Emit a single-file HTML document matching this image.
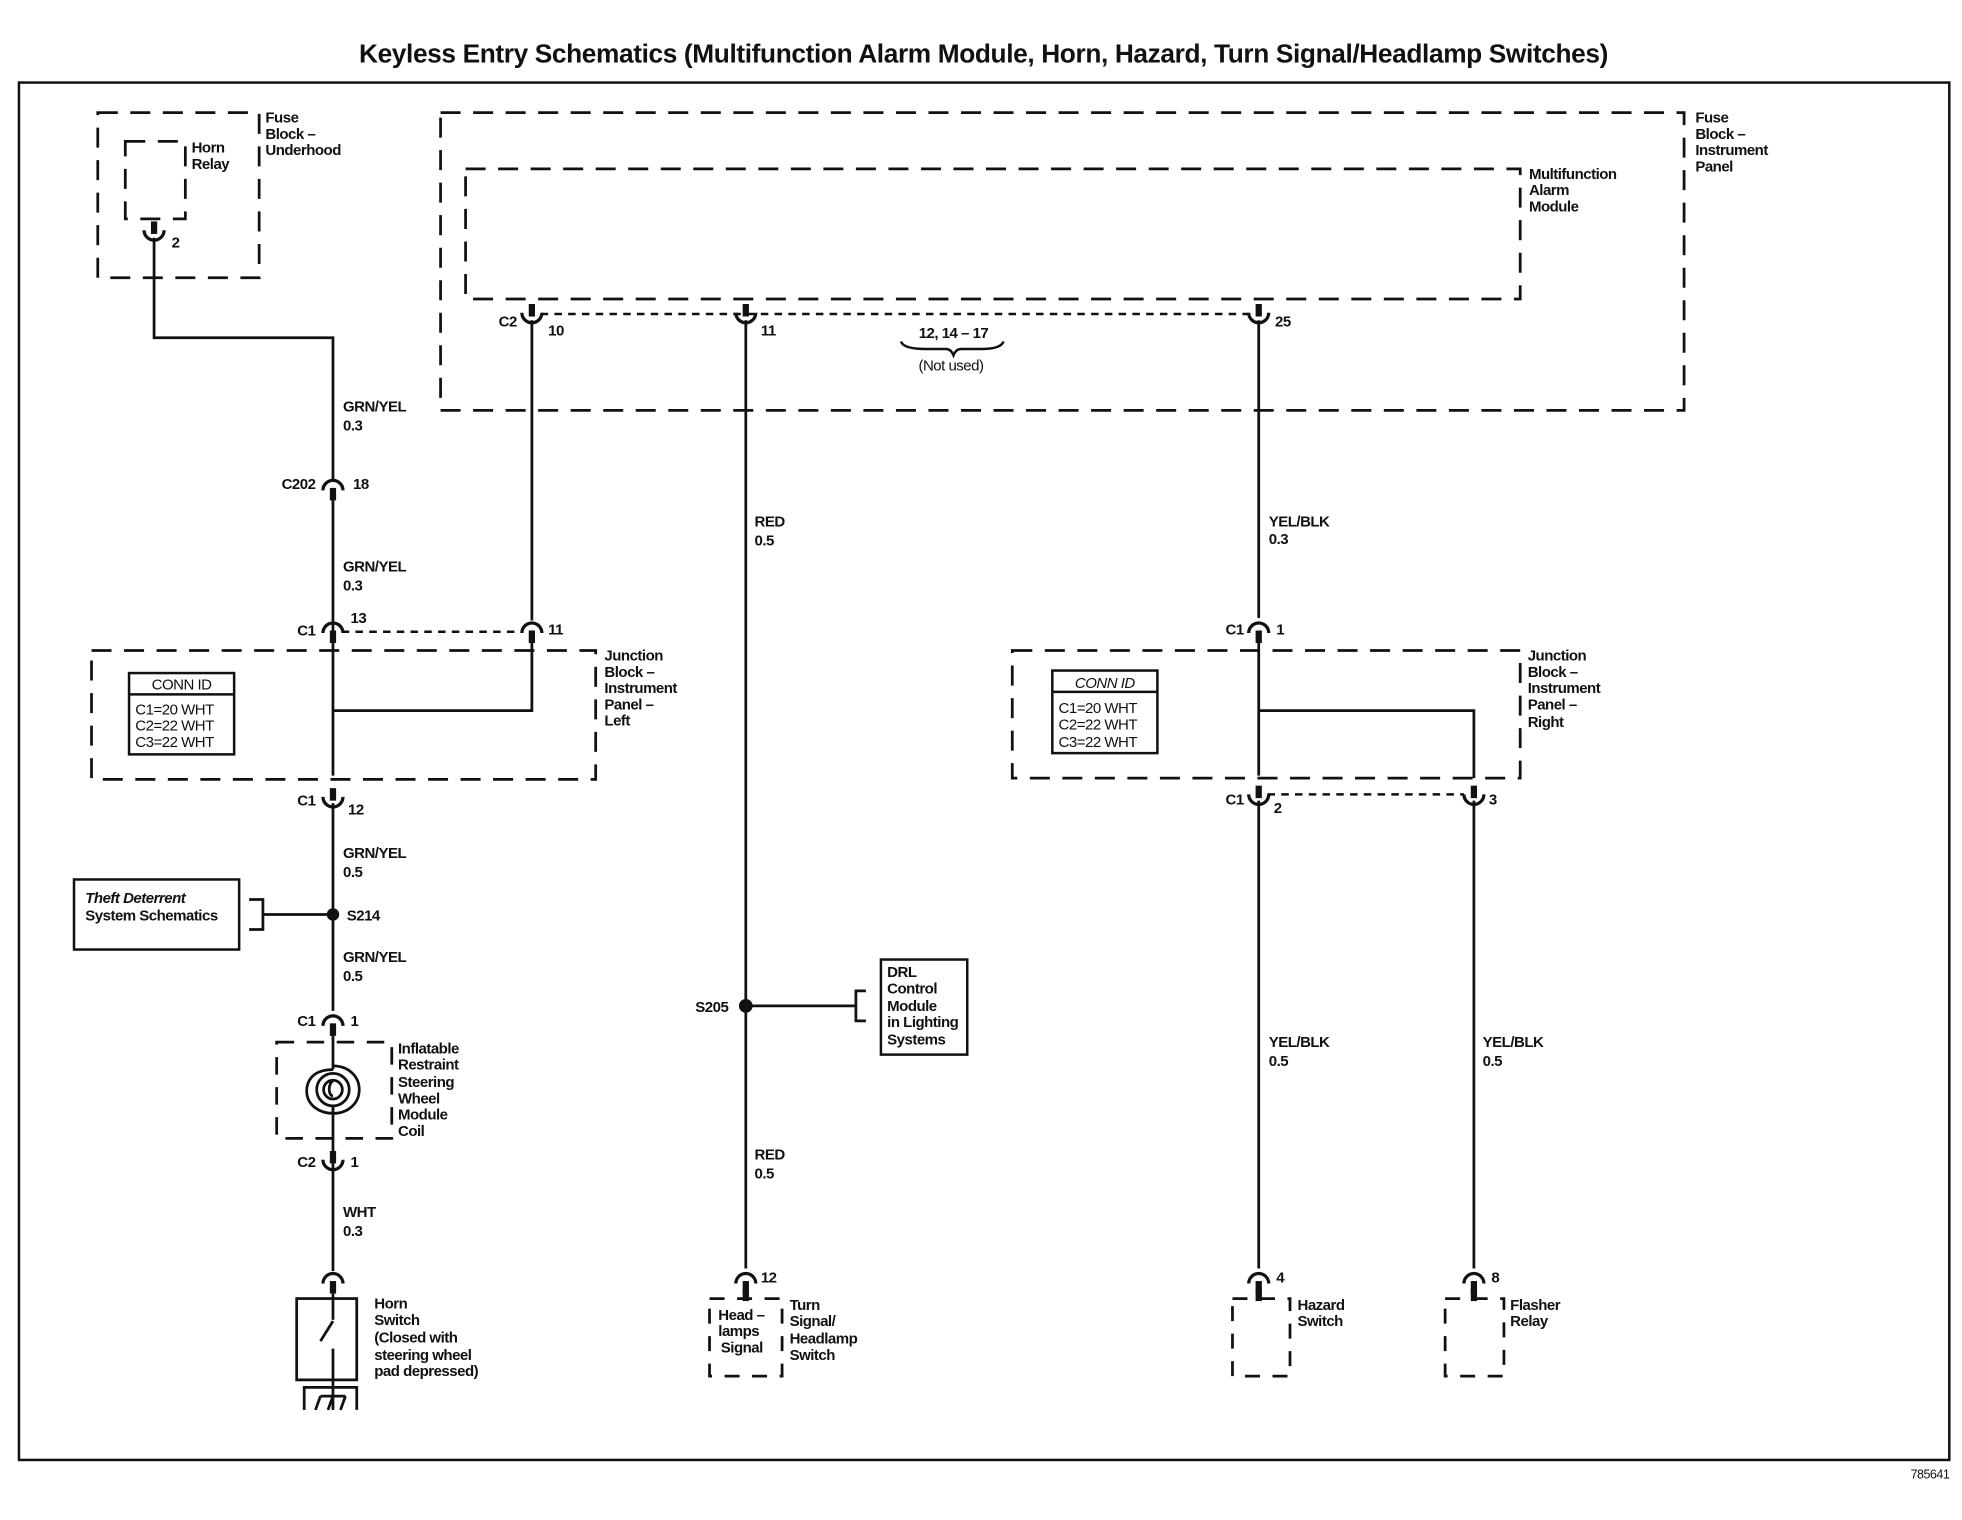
<!DOCTYPE html>
<html><head><meta charset="utf-8"><style>
html,body{margin:0;padding:0;background:#fff}
svg{display:block}
text{font-family:"Liberation Sans",Arial,sans-serif;font-weight:bold;font-size:12px;fill:#111;letter-spacing:-0.4px}
</style></head><body>
<svg width="1962" height="1520" viewBox="0 0 1568 1215" xmlns="http://www.w3.org/2000/svg">
<defs>
<g id="F"><rect x="-2.5" y="-13" width="5" height="10" fill="#111"/><path d="M-8,-6 A8,8 0 0 0 8,-6" fill="none" stroke="#111" stroke-width="2.6"/></g>
<g id="M"><path d="M-8,6 A8,8 0 0 1 8,6" fill="none" stroke="#111" stroke-width="2.6"/><rect x="-2.5" y="4" width="5" height="10" fill="#111"/></g>
</defs>
<text x="786" y="50" text-anchor="middle" style="font-size:21px;letter-spacing:-0.3px">Keyless Entry Schematics (Multifunction Alarm Module, Horn, Hazard, Turn Signal/Headlamp Switches)</text>
<rect x="15" y="66" width="1543" height="1101" fill="none" stroke="#111" stroke-width="2"/>
<text x="1558" y="1182" text-anchor="end" style="font-size:10px;font-weight:normal">785641</text>

<g fill="none" stroke="#111" stroke-width="2.2" stroke-dasharray="16,10">
<rect x="78" y="90" width="129" height="132"/>
<rect x="100" y="113" width="48" height="62"/>
<rect x="352" y="90" width="994" height="238"/>
<rect x="372" y="135" width="843" height="104"/>
<rect x="73" y="520" width="403" height="103"/>
<rect x="809" y="520" width="406" height="102"/>
<rect x="221" y="833" width="92" height="77" stroke-dasharray="14,10"/>
<rect x="567" y="1038" width="58" height="62" stroke-dasharray="12,10"/>
<rect x="985" y="1038" width="46" height="62" stroke-dasharray="12,10"/>
<rect x="1155" y="1038" width="47" height="62" stroke-dasharray="12,10"/>
</g>
<g fill="none" stroke="#111" stroke-width="2" stroke-dasharray="6,5">
<line x1="432" y1="251" x2="998" y2="251"/>
<line x1="273" y1="505" x2="418" y2="505"/>
<line x1="1013" y1="635" x2="1170" y2="635"/>
</g>

<g fill="none" stroke="#111" stroke-width="2.2">
<polyline points="123,190 123,270 266,270 266,384"/>
<line x1="266" y1="392" x2="266" y2="620"/>
<polyline points="266,568 425,568 425,510"/>
<line x1="425" y1="256" x2="425" y2="496"/>
<line x1="266" y1="642" x2="266" y2="808"/>
<line x1="266" y1="826" x2="266" y2="855"/>
<line x1="266" y1="885" x2="266" y2="1016"/>
<line x1="596" y1="256" x2="596" y2="1014"/>
<line x1="1006" y1="256" x2="1006" y2="494"/>
<line x1="1006" y1="512" x2="1006" y2="620"/>
<polyline points="1006,568 1178,568 1178,622"/>
<line x1="1006" y1="640" x2="1006" y2="1014"/>
<line x1="1178" y1="640" x2="1178" y2="1014"/>
<line x1="596" y1="804" x2="684" y2="804"/>
<polyline points="692,792 684,792 684,816 692,816" />
<line x1="266" y1="731" x2="210" y2="731"/>
<polyline points="199,719 210,719 210,743 199,743"/>
</g>
<circle cx="266" cy="731" r="5" fill="#111"/>
<circle cx="596" cy="804" r="5.5" fill="#111"/>

<use href="#F" x="123" y="190"/>
<use href="#F" x="425" y="256"/>
<use href="#F" x="596" y="256"/>
<use href="#F" x="1006" y="256"/>
<use href="#F" x="266" y="643"/>
<use href="#F" x="266" y="933"/>
<use href="#F" x="1006" y="641"/>
<use href="#F" x="1178" y="641"/>
<use href="#M" x="266" y="386"/>
<use href="#M" x="266" y="500"/>
<use href="#M" x="425" y="500"/>
<use href="#M" x="1006" y="500"/>
<use href="#M" x="266" y="814"/>
<use href="#M" x="266" y="1020"/>
<use href="#M" x="596" y="1020"/>
<use href="#M" x="1006" y="1020"/>
<use href="#M" x="1178" y="1020"/>
<rect x="1003.5" y="1030" width="5" height="10" fill="#111"/>
<rect x="1175.5" y="1030" width="5" height="10" fill="#111"/>
<rect x="593.5" y="1030" width="5" height="10" fill="#111"/>

<!-- coil -->
<g fill="none" stroke="#111" stroke-width="2.2">
<path d="M266,855 C248,855 245,866 245,872 C245,884 256,890 266,890 C278,890 287,882 287,871 C287,860 278,852 266,852"/>
<circle cx="266" cy="871" r="13"/>
<circle cx="266" cy="871" r="7.5"/>
<path d="M266,864 C262,866 262,876 266,876"/>
<line x1="266" y1="884" x2="266" y2="890"/>
</g>
<!-- horn switch -->
<g fill="none" stroke="#111" stroke-width="2.2">
<rect x="237" y="1038" width="48" height="65"/>
<line x1="266" y1="1034" x2="266" y2="1055"/>
<line x1="266" y1="1056" x2="256" y2="1072"/>
<line x1="266" y1="1078" x2="266" y2="1127"/>
<polyline points="243,1127 243,1109 285,1109 285,1127"/>
<line x1="252" y1="1127" x2="256" y2="1116"/>
<line x1="262" y1="1127" x2="266" y2="1116"/>
<line x1="272" y1="1127" x2="276" y2="1116"/>
<line x1="256" y1="1116" x2="276" y2="1116"/>
</g>
<!-- boxes -->
<g fill="none" stroke="#111" stroke-width="2">
<rect x="103" y="538" width="84" height="65"/>
<line x1="103" y1="555" x2="187" y2="555"/>
<rect x="841" y="536" width="84" height="66"/>
<line x1="841" y1="553" x2="925" y2="553"/>
<rect x="59" y="703" width="132" height="56"/>
<rect x="704" y="767" width="69" height="76"/>
<path d="M720,273 Q722,279 740,279 L756,279 Q760,279 762,284 Q764,279 768,279 L784,279 Q800,279 802,273"/>
</g>

<g>
<text x="212" y="98">Fuse</text><text x="212" y="111">Block –</text><text x="212" y="124">Underhood</text>
<text x="153" y="122">Horn</text><text x="153" y="135">Relay</text>
<text x="137" y="198">2</text>
<text x="274" y="329">GRN/YEL</text><text x="274" y="344">0.3</text>
<text x="252" y="391" text-anchor="end">C202</text><text x="282" y="391">18</text>
<text x="274" y="457">GRN/YEL</text><text x="274" y="472">0.3</text>
<text x="252" y="508" text-anchor="end">C1</text><text x="280" y="498">13</text>
<text x="438" y="507">11</text>
<text x="483" y="528">Junction</text><text x="483" y="541">Block –</text><text x="483" y="554">Instrument</text><text x="483" y="567">Panel –</text><text x="483" y="580">Left</text>
<text x="145" y="551" text-anchor="middle" style="font-weight:normal">CONN ID</text>
<text x="108" y="571" style="font-weight:normal">C1=20 WHT</text><text x="108" y="584" style="font-weight:normal">C2=22 WHT</text><text x="108" y="597" style="font-weight:normal">C3=22 WHT</text>
<text x="252" y="644" text-anchor="end">C1</text><text x="278" y="651">12</text>
<text x="274" y="686">GRN/YEL</text><text x="274" y="701">0.5</text>
<text x="68" y="722" style="font-style:italic">Theft Deterrent</text><text x="68" y="736">System Schematics</text>
<text x="277" y="736">S214</text>
<text x="274" y="769">GRN/YEL</text><text x="274" y="784">0.5</text>
<text x="252" y="820" text-anchor="end">C1</text><text x="280" y="820">1</text>
<text x="318" y="842">Inflatable</text><text x="318" y="855">Restraint</text><text x="318" y="869">Steering</text><text x="318" y="882">Wheel</text><text x="318" y="895">Module</text><text x="318" y="908">Coil</text>
<text x="252" y="933" text-anchor="end">C2</text><text x="280" y="933">1</text>
<text x="274" y="973">WHT</text><text x="274" y="988">0.3</text>
<text x="299" y="1046">Horn</text><text x="299" y="1059">Switch</text><text x="299" y="1073">(Closed with</text><text x="299" y="1087">steering wheel</text><text x="299" y="1100">pad depressed)</text>

<text x="1355" y="98">Fuse</text><text x="1355" y="111">Block –</text><text x="1355" y="124">Instrument</text><text x="1355" y="137">Panel</text>
<text x="1222" y="143">Multifunction</text><text x="1222" y="156">Alarm</text><text x="1222" y="169">Module</text>
<text x="413" y="261" text-anchor="end">C2</text><text x="438" y="268">10</text>
<text x="608" y="268">11</text>
<text x="1019" y="261">25</text>
<text x="762" y="270" text-anchor="middle">12, 14 – 17</text>
<text x="760" y="296" text-anchor="middle" style="font-weight:normal">(Not used)</text>
<text x="603" y="421">RED</text><text x="603" y="436">0.5</text>
<text x="1014" y="421">YEL/BLK</text><text x="1014" y="435">0.3</text>
<text x="994" y="507" text-anchor="end">C1</text><text x="1020" y="507">1</text>
<text x="1221" y="528">Junction</text><text x="1221" y="541">Block –</text><text x="1221" y="554">Instrument</text><text x="1221" y="567">Panel –</text><text x="1221" y="581">Right</text>
<text x="883" y="550" text-anchor="middle" style="font-style:italic;font-weight:normal">CONN ID</text>
<text x="846" y="570" style="font-weight:normal">C1=20 WHT</text><text x="846" y="583" style="font-weight:normal">C2=22 WHT</text><text x="846" y="597" style="font-weight:normal">C3=22 WHT</text>
<text x="994" y="643" text-anchor="end">C1</text><text x="1018" y="650">2</text>
<text x="1190" y="643">3</text>
<text x="582" y="809" text-anchor="end">S205</text>
<text x="709" y="781">DRL</text><text x="709" y="794">Control</text><text x="709" y="808">Module</text><text x="709" y="821">in Lighting</text><text x="709" y="835">Systems</text>
<text x="603" y="927">RED</text><text x="603" y="942">0.5</text>
<text x="1014" y="837">YEL/BLK</text><text x="1014" y="852">0.5</text>
<text x="1185" y="837">YEL/BLK</text><text x="1185" y="852">0.5</text>
<text x="608" y="1025">12</text>
<text x="574" y="1055">Head –</text><text x="574" y="1068">lamps</text><text x="576" y="1081">Signal</text>
<text x="631" y="1047">Turn</text><text x="631" y="1060">Signal/</text><text x="631" y="1074">Headlamp</text><text x="631" y="1087">Switch</text>
<text x="1020" y="1025">4</text>
<text x="1037" y="1047">Hazard</text><text x="1037" y="1060">Switch</text>
<text x="1192" y="1025">8</text>
<text x="1207" y="1047">Flasher</text><text x="1207" y="1060">Relay</text>
</g>
</svg>
</body></html>
